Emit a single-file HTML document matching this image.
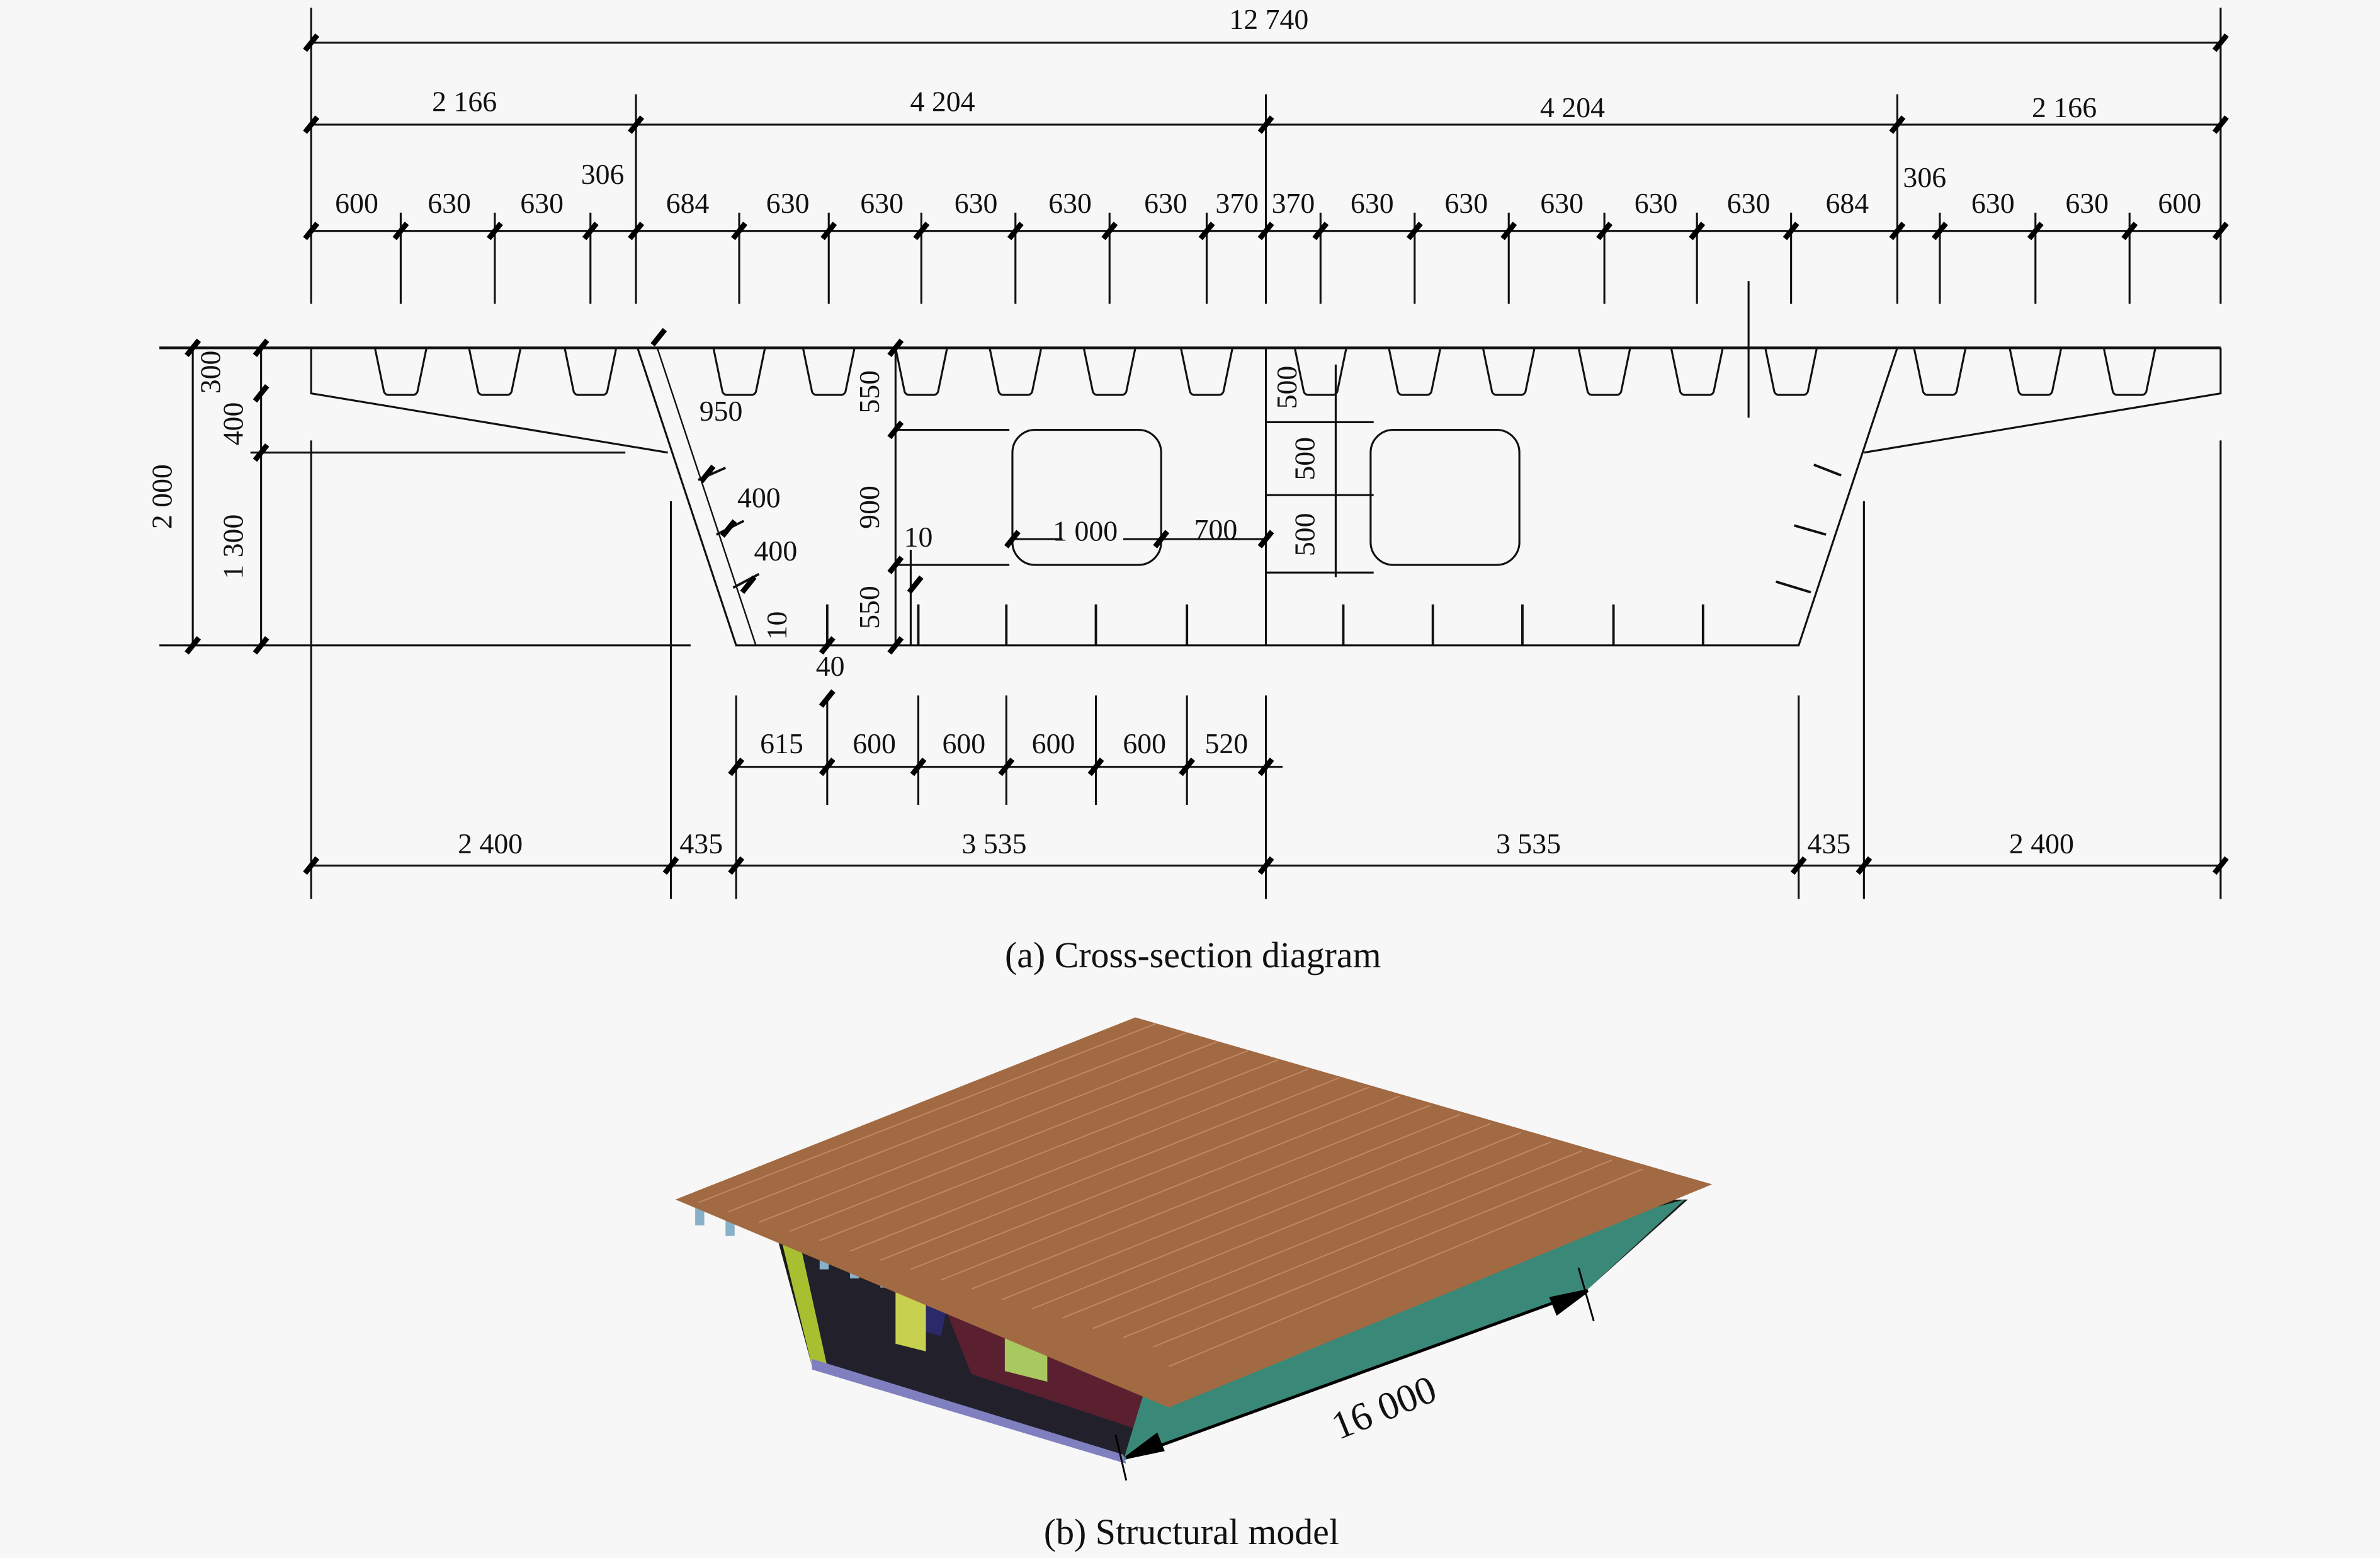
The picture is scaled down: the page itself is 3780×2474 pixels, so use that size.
<!DOCTYPE html>
<html><head><meta charset="utf-8"><style>
html,body{margin:0;padding:0;background:#f7f7f7;}
svg{display:block;}
text{font-family:"Liberation Serif",serif;font-size:19px;fill:#111;}
</style></head><body>
<svg width="3780" height="2474" viewBox="0 0 1568 1026" xmlns="http://www.w3.org/2000/svg">
<rect width="1568" height="1026" fill="#f7f7f7"/>
<defs>
<g id="t"><line x1="-4" y1="5" x2="4" y2="-5" stroke="#000" stroke-width="3.5"/></g>
<g id="u"><path d="M-17,0 L-11,29 Q-10,31 -8,31 L8,31 Q10,31 11,29 L17,0" fill="none" stroke="#111" stroke-width="1.3"/></g>
</defs>
<g stroke="#111" stroke-width="1.3" fill="none">
<line x1="205" y1="28" x2="1463" y2="28"/>
<line x1="205" y1="82" x2="1463" y2="82"/>
<line x1="205" y1="152" x2="1463" y2="152"/>
<line x1="205" y1="5" x2="205" y2="200"/>
<line x1="1463" y1="5" x2="1463" y2="200"/>
<line x1="419" y1="62" x2="419" y2="200"/>
<line x1="834" y1="62" x2="834" y2="200"/>
<line x1="1250" y1="62" x2="1250" y2="200"/>
<g>
<line x1="264" y1="140" x2="264" y2="200"/><line x1="326" y1="140" x2="326" y2="200"/><line x1="389" y1="140" x2="389" y2="200"/>
<line x1="487" y1="140" x2="487" y2="200"/><line x1="546" y1="140" x2="546" y2="200"/><line x1="607" y1="140" x2="607" y2="200"/>
<line x1="669" y1="140" x2="669" y2="200"/><line x1="731" y1="140" x2="731" y2="200"/><line x1="795" y1="140" x2="795" y2="200"/>
<line x1="870" y1="140" x2="870" y2="200"/><line x1="932" y1="140" x2="932" y2="200"/><line x1="994" y1="140" x2="994" y2="200"/>
<line x1="1057" y1="140" x2="1057" y2="200"/><line x1="1118" y1="140" x2="1118" y2="200"/><line x1="1180" y1="140" x2="1180" y2="200"/>
<line x1="1278" y1="140" x2="1278" y2="200"/><line x1="1341" y1="140" x2="1341" y2="200"/><line x1="1403" y1="140" x2="1403" y2="200"/>
</g>
<line x1="105" y1="229" x2="1463" y2="229" stroke-width="1.8"/>
<polyline points="205,229 205,259 440,298"/>
<polyline points="1463,229 1463,259 1228,298"/>
<polyline points="420,229 485,425 1185,425 1250,229"/>
<line x1="433" y1="229" x2="498" y2="425" stroke-width="1"/>
<line x1="834" y1="229" x2="834" y2="425"/>
<line x1="880" y1="240" x2="880" y2="380"/>
<line x1="834" y1="278" x2="905" y2="278"/>
<line x1="834" y1="326" x2="905" y2="326"/>
<line x1="834" y1="377" x2="905" y2="377"/>
<line x1="590" y1="229" x2="590" y2="425"/>
<line x1="590" y1="283" x2="665" y2="283"/>
<line x1="590" y1="372" x2="665" y2="372"/>
<line x1="600" y1="362" x2="600" y2="425"/>
<rect x="667" y="283" width="98" height="89" rx="15"/>
<rect x="903" y="283" width="98" height="89" rx="15"/>
<line x1="667" y1="355" x2="700" y2="355"/><line x1="740" y1="355" x2="834" y2="355"/>
<line x1="1152" y1="185" x2="1152" y2="275"/>
<g stroke-width="1.6">
<line x1="545" y1="398" x2="545" y2="425"/><line x1="605" y1="398" x2="605" y2="425"/><line x1="663" y1="398" x2="663" y2="425"/>
<line x1="722" y1="398" x2="722" y2="425"/><line x1="782" y1="398" x2="782" y2="425"/><line x1="885" y1="398" x2="885" y2="425"/>
<line x1="944" y1="398" x2="944" y2="425"/><line x1="1003" y1="398" x2="1003" y2="425"/><line x1="1063" y1="398" x2="1063" y2="425"/>
<line x1="1122" y1="398" x2="1122" y2="425"/>
<line x1="1213" y1="313" x2="1195" y2="306"/><line x1="1203" y1="352" x2="1182" y2="346"/><line x1="1193" y1="390" x2="1170" y2="383"/>
<line x1="460" y1="316" x2="478" y2="308"/><line x1="472" y1="352" x2="490" y2="343"/><line x1="483" y1="387" x2="500" y2="378"/>
</g>
<line x1="127" y1="229" x2="127" y2="425"/>
<line x1="172" y1="229" x2="172" y2="425"/>
<line x1="165" y1="298" x2="412" y2="298"/>
<line x1="105" y1="425" x2="455" y2="425"/>
<line x1="485" y1="505" x2="845" y2="505"/>
<line x1="205" y1="570" x2="1463" y2="570"/>
<line x1="205" y1="290" x2="205" y2="592"/>
<line x1="442" y1="330" x2="442" y2="592"/>
<line x1="485" y1="458" x2="485" y2="592"/>
<line x1="834" y1="458" x2="834" y2="592"/>
<line x1="1185" y1="458" x2="1185" y2="592"/>
<line x1="1228" y1="330" x2="1228" y2="592"/>
<line x1="1463" y1="290" x2="1463" y2="592"/>
<line x1="545" y1="458" x2="545" y2="530"/><line x1="605" y1="458" x2="605" y2="530"/><line x1="663" y1="458" x2="663" y2="530"/>
<line x1="722" y1="458" x2="722" y2="530"/><line x1="782" y1="458" x2="782" y2="530"/>
</g>
<g transform="translate(0,229)">
<use href="#u" x="264"/><use href="#u" x="326"/><use href="#u" x="389"/><use href="#u" x="487"/><use href="#u" x="546"/><use href="#u" x="607"/>
<use href="#u" x="669"/><use href="#u" x="731"/><use href="#u" x="795"/><use href="#u" x="870"/><use href="#u" x="932"/><use href="#u" x="994"/>
<use href="#u" x="1057"/><use href="#u" x="1118"/><use href="#u" x="1180"/><use href="#u" x="1278"/><use href="#u" x="1341"/><use href="#u" x="1403"/>
</g>
<g>
<use href="#t" x="205" y="28"/><use href="#t" x="1463" y="28"/>
<use href="#t" x="205" y="82"/><use href="#t" x="419" y="82"/><use href="#t" x="834" y="82"/><use href="#t" x="1250" y="82"/><use href="#t" x="1463" y="82"/>
<use href="#t" x="205" y="152"/><use href="#t" x="264" y="152"/><use href="#t" x="326" y="152"/><use href="#t" x="389" y="152"/><use href="#t" x="419" y="152"/>
<use href="#t" x="487" y="152"/><use href="#t" x="546" y="152"/><use href="#t" x="607" y="152"/><use href="#t" x="669" y="152"/><use href="#t" x="731" y="152"/>
<use href="#t" x="795" y="152"/><use href="#t" x="834" y="152"/><use href="#t" x="870" y="152"/><use href="#t" x="932" y="152"/><use href="#t" x="994" y="152"/>
<use href="#t" x="1057" y="152"/><use href="#t" x="1118" y="152"/><use href="#t" x="1180" y="152"/><use href="#t" x="1250" y="152"/><use href="#t" x="1278" y="152"/>
<use href="#t" x="1341" y="152"/><use href="#t" x="1403" y="152"/><use href="#t" x="1463" y="152"/>
<use href="#t" x="127" y="229"/><use href="#t" x="127" y="425"/>
<use href="#t" x="172" y="229"/><use href="#t" x="172" y="259"/><use href="#t" x="172" y="298"/><use href="#t" x="172" y="425"/>
<use href="#t" x="590" y="229"/><use href="#t" x="590" y="283"/><use href="#t" x="590" y="372"/><use href="#t" x="590" y="425"/>
<use href="#t" x="603" y="385"/><use href="#t" x="545" y="425"/><use href="#t" x="545" y="460"/>
<use href="#t" x="667" y="355"/><use href="#t" x="765" y="355"/><use href="#t" x="834" y="355"/>
<use href="#t" x="434" y="222"/><use href="#t" x="466" y="312"/><use href="#t" x="480" y="348"/><use href="#t" x="493" y="385"/>
<use href="#t" x="485" y="505"/><use href="#t" x="545" y="505"/><use href="#t" x="605" y="505"/><use href="#t" x="663" y="505"/><use href="#t" x="722" y="505"/><use href="#t" x="782" y="505"/><use href="#t" x="834" y="505"/>
<use href="#t" x="205" y="570"/><use href="#t" x="442" y="570"/><use href="#t" x="485" y="570"/><use href="#t" x="834" y="570"/><use href="#t" x="1185" y="570"/><use href="#t" x="1228" y="570"/><use href="#t" x="1463" y="570"/>
</g>
<g text-anchor="middle">
<text x="836" y="19">12 740</text>
<text x="306" y="73">2 166</text><text x="621" y="73">4 204</text><text x="1036" y="77">4 204</text><text x="1360" y="77">2 166</text>
<text x="397" y="121">306</text><text x="1268" y="123">306</text>
<text x="235" y="140">600</text><text x="296" y="140">630</text><text x="357" y="140">630</text><text x="453" y="140">684</text>
<text x="519" y="140">630</text><text x="581" y="140">630</text><text x="643" y="140">630</text><text x="705" y="140">630</text><text x="768" y="140">630</text>
<text x="815" y="140">370</text><text x="852" y="140">370</text><text x="904" y="140">630</text><text x="966" y="140">630</text><text x="1029" y="140">630</text>
<text x="1091" y="140">630</text><text x="1152" y="140">630</text><text x="1217" y="140">684</text><text x="1313" y="140">630</text><text x="1375" y="140">630</text><text x="1436" y="140">600</text>
<text x="475" y="277">950</text><text x="500" y="334">400</text><text x="511" y="369">400</text>
<text x="605" y="360">10</text><text x="715" y="356">1 000</text><text x="801" y="355">700</text>
<text x="547" y="445">40</text>
<text x="515" y="496">615</text><text x="576" y="496">600</text><text x="635" y="496">600</text><text x="694" y="496">600</text><text x="754" y="496">600</text><text x="808" y="496">520</text>
<text x="323" y="562">2 400</text><text x="462" y="562">435</text><text x="655" y="562">3 535</text><text x="1007" y="562">3 535</text><text x="1205" y="562">435</text><text x="1345" y="562">2 400</text>
<text x="786" y="637" style="font-size:24px">(a) Cross-section diagram</text>
<text x="785" y="1017" style="font-size:24px">(b) Structural model</text>
<text transform="translate(113,327) rotate(-90)">2 000</text>
<text transform="translate(145,245) rotate(-90)">300</text>
<text transform="translate(160,279) rotate(-90)">400</text>
<text transform="translate(160,360) rotate(-90)">1 300</text>
<text transform="translate(579,258) rotate(-90)">550</text>
<text transform="translate(579,334) rotate(-90)">900</text>
<text transform="translate(579,400) rotate(-90)">550</text>
<text transform="translate(518,412) rotate(-90)">10</text>
<text transform="translate(854,255) rotate(-90)">500</text>
<text transform="translate(866,302) rotate(-90)">500</text>
<text transform="translate(866,352) rotate(-90)">500</text>
</g>
<!-- 3D model -->
<polygon points="460,795 1112,790 1045,850 740,962 535,900 512,815" fill="#1a1a1a"/>
<polygon points="520,810 590,845 760,900 765,935 740,958 537,898" fill="#22202a"/>
<polygon points="620,855 770,900 760,945 640,905" fill="#5a2030"/>
<polygon points="592,845 625,855 620,880 592,872" fill="#2a2a6a"/>
<polygon points="765,880 1110,790 1045,850 740,962" fill="#3a8878"/>
<polygon points="512,805 524,805 545,900 535,900" fill="#a8c030"/>
<polygon points="590,850 610,852 610,890 590,885" fill="#c8d050"/>
<polygon points="662,870 690,876 690,910 662,903" fill="#a8c860"/>
<polygon points="535,895 740,958 742,964 535,902" fill="#8080c0"/>
<g fill="#88b0c8">
<rect x="458" y="795" width="6" height="12"/><rect x="478" y="800" width="6" height="14"/><rect x="540" y="820" width="6" height="16"/>
<rect x="560" y="826" width="6" height="16"/><rect x="580" y="832" width="6" height="16"/><rect x="700" y="868" width="6" height="16"/><rect x="730" y="878" width="6" height="16"/>
</g>
<polygon points="445,790 748,670 1128,780 770,927" fill="#a26a42"/>
<g stroke="#c89070" stroke-width="0.8" opacity="0.8">
<line x1="460" y1="792" x2="762" y2="674"/><line x1="480" y1="798" x2="782" y2="680"/><line x1="500" y1="805" x2="802" y2="686"/>
<line x1="520" y1="811" x2="822" y2="692"/><line x1="540" y1="817" x2="842" y2="698"/><line x1="560" y1="824" x2="862" y2="704"/>
<line x1="580" y1="830" x2="882" y2="710"/><line x1="600" y1="836" x2="902" y2="716"/><line x1="620" y1="843" x2="922" y2="722"/>
<line x1="640" y1="849" x2="942" y2="728"/><line x1="660" y1="856" x2="962" y2="734"/><line x1="680" y1="862" x2="982" y2="740"/>
<line x1="700" y1="868" x2="1002" y2="746"/><line x1="720" y1="875" x2="1022" y2="752"/><line x1="740" y1="881" x2="1042" y2="758"/>
<line x1="760" y1="887" x2="1062" y2="764"/><line x1="770" y1="900" x2="1082" y2="770"/>
</g>
<g stroke="#000" stroke-width="2" fill="#000">
<line x1="748" y1="958" x2="1040" y2="852"/>
<polygon points="742,960 762,945 766,955"/>
<polygon points="1046,850 1026,865 1022,855"/>
<line x1="1040" y1="835" x2="1050" y2="870" stroke-width="1.2"/>
<line x1="735" y1="945" x2="742" y2="975" stroke-width="1.2"/>
</g>
<text transform="translate(915,935) rotate(-22)" text-anchor="middle" style="font-size:26px">16 000</text>
</svg>
</body></html>
